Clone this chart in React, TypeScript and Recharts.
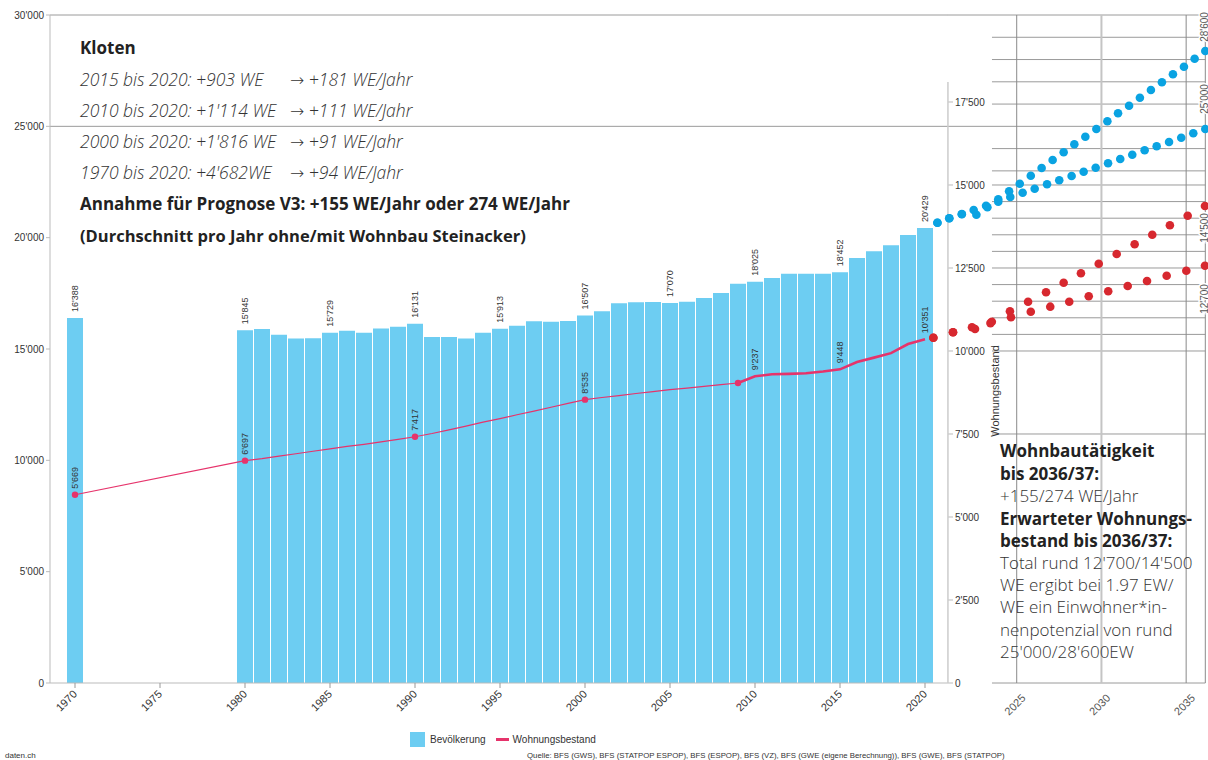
import React from 'react';
import {
  ComposedChart, Bar, Line, XAxis, YAxis, ReferenceLine, LabelList, Legend, Scatter,
} from 'recharts';

const W = 1208;
const H = 760;

// ---------- data: historic (Kloten) ----------
const years = [1970, 1971, 1972, 1973, 1974, 1975, 1976, 1977, 1978, 1979, 1980, 1981, 1982, 1983, 1984, 1985, 1986, 1987, 1988, 1989, 1990, 1991, 1992, 1993, 1994, 1995, 1996, 1997, 1998, 1999, 2000, 2001, 2002, 2003, 2004, 2005, 2006, 2007, 2008, 2009, 2010, 2011, 2012, 2013, 2014, 2015, 2016, 2017, 2018, 2019, 2020];

const bevoelkerung = [16388, null, null, null, null, null, null, null, null, null,
  15845, 15893, 15638, 15473, 15480, 15729, 15817, 15735, 15920, 15995,
  16131, 15535, 15540, 15473, 15730, 15913, 16040, 16250, 16219, 16255,
  16507, 16697, 17054, 17099, 17112, 17070, 17126, 17291, 17515, 17930,
  18025, 18185, 18377, 18380, 18385, 18452, 19092, 19391, 19659, 20119, 20429];

const wohnungenBis2009 = [5669, null, null, null, null, null, null, null, null, null,
  6697, 6760, 6835, 6905, 6980, 7050, 7125, 7190, 7265, 7340,
  7417, 7515, 7625, 7735, 7855, 7964, 8080, 8190, 8305, 8420,
  8535, 8600, 8655, 8720, 8775, 8835, 8880, 8935, 8985, 9036,
  null, null, null, null, null, null, null, null, null, null, null];

const wohnungenAb2009 = [null, null, null, null, null, null, null, null, null, null,
  null, null, null, null, null, null, null, null, null, null,
  null, null, null, null, null, null, null, null, null, null,
  null, null, null, null, null, null, null, null, null, 9036,
  9237, 9300, 9310, 9330, 9380, 9448, 9670, 9800, 9935, 10210, 10351];

const popLabelYears = [1970, 1980, 1985, 1990, 1995, 2000, 2005, 2010, 2015, 2020];
const weLabelYears = [1970, 1980, 1990, 2000, 2010, 2015, 2020];
const weDotYears = [1970, 1980, 1990, 2000, 2009];

const popTicks = [0, 5000, 10000, 15000, 20000, 25000, 30000];
const weTicks = [0, 2500, 5000, 7500, 10000, 12500, 15000, 17500];

// ---------- data: projection panel ----------
const prognoseBevHochJahr = [2020.32, 2021.02, 2021.76, 2022.46, 2023.19, 2023.91, 2024.55, 2025.18, 2025.83, 2026.47, 2027.12, 2027.77, 2028.40, 2029.05, 2029.70, 2030.35, 2030.98, 2031.63, 2032.27, 2032.92, 2033.57, 2034.22, 2034.87, 2035.50, 2036.13];
const prognoseBevHoch = [20672, 20870, 21063, 21242, 21436, 21723, 22082, 22424, 22783, 23129, 23488, 23834, 24193, 24534, 24880, 25226, 25585, 25927, 26286, 26632, 26977, 27337, 27678, 28037, 28383];

const prognoseBevTiefJahr = [2020.32, 2021.02, 2021.76, 2022.62, 2023.27, 2023.91, 2024.62, 2025.35, 2026.06, 2026.79, 2027.51, 2028.24, 2028.95, 2029.66, 2030.39, 2031.11, 2031.82, 2032.55, 2033.26, 2033.99, 2034.71, 2035.42, 2036.13];
const prognoseBevTief = [20672, 20870, 21049, 21031, 21364, 21615, 21826, 22019, 22199, 22397, 22576, 22769, 22962, 23142, 23340, 23533, 23726, 23924, 24103, 24296, 24489, 24687, 24880];

const prognoseWeHochJahr = [2020.08, 2021.24, 2022.36, 2023.53, 2024.60, 2025.67, 2026.73, 2027.77, 2028.79, 2029.84, 2030.90, 2031.96, 2033.00, 2034.04, 2035.09, 2036.11];
const prognoseWeHoch = [10400, 10563, 10714, 10882, 11196, 11485, 11768, 12057, 12340, 12629, 12921, 13214, 13503, 13786, 14075, 14367];

const prognoseWeTiefJahr = [2020.08, 2021.24, 2022.54, 2023.45, 2024.66, 2025.83, 2026.98, 2028.10, 2029.25, 2030.40, 2031.55, 2032.69, 2033.85, 2035.01, 2036.11];
const prognoseWeTief = [10400, 10563, 10664, 10840, 11017, 11184, 11335, 11485, 11648, 11798, 11958, 12108, 12268, 12418, 12569];

const panelTicks = [2025, 2030, 2035];
const panelPopGrid = [23000, 24000, 26000, 27000, 28000, 29000];
const panelPopFullGrid = [25000, 30000];
const panelWeGrid = [7500, 10000, 10500, 11000, 11500, 12000, 12500, 13000, 13500, 14000, 14500, 15000];
const panelDomain: [number, number] = [2020, 2036.13];
const panelGridStart = 2023.54;
const weAxisYear = 2020.94;
const weAxisTop = 18100;

// ---------- styles ----------
const AXIS_FONT = '"Liberation Sans", Arial, sans-serif';
const TEXT_FONT = '"Open Sans", "Noto Sans", sans-serif';
const BAR_COLOR = '#6dcdf2';
const LINE_COLOR = '#e6336b';
const BLUE_DOT = '#0aa3e2';
const RED_DOT = '#d7282f';
const GRID = '#9a9a9a';

const fmt = (v: any) => String(Math.round(Number(v))).replace(/\B(?=(\d{3})+(?!\d))/g, "'");

const rows = years.map((year, i) => ({
  year,
  pop: bevoelkerung[i],
  weA: wohnungenBis2009[i],
  weB: wohnungenAb2009[i],
}));

const popLabelValues = popLabelYears.map((y) => bevoelkerung[years.indexOf(y)]);

const zip = (xs: number[], ys: number[]) => xs.map((x, i) => ({ x, y: ys[i] }));

const XTick = (props: any) => {
  const { payload, color, ox = 0, oy = 0 } = props;
  const x = Number(props.x) + ox;
  const y = Number(props.y) + oy;
  return (
    <text x={x} y={y} dy="0.35em" transform={`rotate(-45 ${x} ${y})`} textAnchor="end"
      fontSize={11} fill={color || '#333'} fontFamily={AXIS_FONT}>
      {payload.value}
    </text>
  );
};

const BarLabel = (props: any) => {
  const { x, y, width, value } = props;
  if (value == null || !popLabelValues.includes(Number(value))) return null;
  const cx = Number(x) + Number(width) / 2;
  const ty = Number(y) - 6;
  return (
    <text x={cx} y={ty} dy="0.35em" transform={`rotate(-90 ${cx} ${ty})`} textAnchor="start"
      fontSize={9} fill="#333" fontFamily={AXIS_FONT}>
      {fmt(value)}
    </text>
  );
};

const LineLabel = (props: any) => {
  const { x, y, value, index } = props;
  if (value == null || x == null || y == null || !weLabelYears.includes(years[index])) return null;
  const cx = Number(x);
  const ty = Number(y) - 6;
  return (
    <text x={cx} y={ty} dy="0.35em" transform={`rotate(-90 ${cx} ${ty})`} textAnchor="start"
      fontSize={9} fill="#333" fontFamily={AXIS_FONT}>
      {fmt(value)}
    </text>
  );
};

const renderDot = (props: any) => {
  const { cx, cy, index } = props;
  const key = `dot-${index}`;
  if (cx == null || cy == null || !weDotYears.includes(years[index])) return <g key={key} />;
  return <circle key={key} cx={cx} cy={cy} r={3.2} fill={LINE_COLOR} />;
};

const dotShape = (color: string) => (props: any) => (
  <circle cx={props.cx} cy={props.cy} r={4.3} fill={color} />
);

const LegendContent = (props: any) => {
  const items = (props.payload || []).filter((p: any) => p.type !== 'none');
  return (
    <div style={{ display: 'flex', alignItems: 'center', fontFamily: AXIS_FONT, fontSize: 10, color: '#333' }}>
      {items.map((it: any) => (
        <span key={it.value} style={{ display: 'flex', alignItems: 'center', marginRight: 10 }}>
          {it.type === 'square'
            ? <span style={{ display: 'inline-block', width: 15, height: 15, background: it.color, marginRight: 5 }} />
            : <span style={{ display: 'inline-block', width: 13, height: 3, background: it.color, marginRight: 4 }} />}
          {it.value}
        </span>
      ))}
    </div>
  );
};

const MainChart = () => (
  <ComposedChart width={W} height={H} data={rows} margin={{ top: 15, right: 210, bottom: 37, left: 0 }} barCategoryGap={0.5}>
    <XAxis dataKey="year" interval={4} padding={{ left: 16.5, right: 14.5 }} height={40}
      tick={<XTick oy={2} />} tickSize={5} tickLine={{ stroke: '#999' }} axisLine={{ stroke: '#bbb' }} />
    <YAxis yAxisId="pop" domain={[0, 30000]} ticks={popTicks} width={50} tickFormatter={fmt}
      tick={{ fontSize: 10, fill: '#333', fontFamily: AXIS_FONT }} tickSize={4}
      axisLine={{ stroke: '#bbb' }} tickLine={{ stroke: '#bbb' }} />
    <YAxis yAxisId="we" orientation="right" domain={[0, 20120]} ticks={weTicks} width={50} tickFormatter={fmt}
      tick={{ fontSize: 10, fill: '#333', fontFamily: AXIS_FONT }} tickSize={5}
      axisLine={false} tickLine={{ stroke: '#bbb' }} />
    <ReferenceLine yAxisId="pop" y={25000} stroke={GRID} />
    <ReferenceLine yAxisId="pop" y={30000} stroke={GRID} />
    <Bar yAxisId="pop" dataKey="pop" name="Bevölkerung" fill={BAR_COLOR} legendType="square" isAnimationActive={false}>
      <LabelList dataKey="pop" content={BarLabel} />
    </Bar>
    <Line yAxisId="we" dataKey="weA" name="Wohnungsbestand" stroke={LINE_COLOR} strokeWidth={1.2} connectNulls
      dot={renderDot} activeDot={false} legendType="line" isAnimationActive={false}>
      <LabelList dataKey="weA" content={LineLabel} />
    </Line>
    <Line yAxisId="we" dataKey="weB" name="Wohnungsbestand ab 2009" stroke={LINE_COLOR} strokeWidth={2.6}
      dot={false} activeDot={false} legendType="none" isAnimationActive={false}>
      <LabelList dataKey="weB" content={LineLabel} />
    </Line>
    <Legend layout="horizontal" verticalAlign="middle" align="center" content={LegendContent}
      wrapperStyle={{ left: 410, top: 732, width: 240, height: 18 }} />
  </ComposedChart>
);

const PanelChart = () => (
  <ComposedChart width={W} height={H} margin={{ top: 15, right: 2.7, bottom: 37, left: 932 }}>
    <XAxis type="number" dataKey="x" domain={panelDomain} ticks={panelTicks} height={40}
      tick={<XTick color="#555" ox={7} oy={6} />} tickSize={5} tickLine={false} axisLine={false} />
    <YAxis yAxisId="pop" dataKey="y" domain={[0, 30000]} hide />
    <YAxis yAxisId="we" dataKey="y" domain={[0, 20120]} hide />
    {panelPopGrid.map((v) => (
      <ReferenceLine key={`pg${v}`} yAxisId="pop" stroke={GRID}
        segment={[{ x: panelGridStart, y: v }, { x: panelDomain[1], y: v }]} />
    ))}
    {panelPopFullGrid.map((v) => (
      <ReferenceLine key={`pf${v}`} yAxisId="pop" stroke={GRID}
        segment={[{ x: weAxisYear, y: v }, { x: panelDomain[1], y: v }]} />
    ))}
    {panelWeGrid.map((v) => (
      <ReferenceLine key={`wg${v}`} yAxisId="we" stroke={GRID}
        segment={[{ x: panelGridStart, y: v }, { x: panelDomain[1], y: v }]} />
    ))}
    <ReferenceLine yAxisId="we" stroke={GRID} segment={[{ x: panelGridStart, y: 0 }, { x: panelDomain[1], y: 0 }]} />
    <ReferenceLine yAxisId="we" stroke="#ccc" strokeWidth={1.5} segment={[{ x: weAxisYear, y: 0 }, { x: weAxisYear, y: weAxisTop }]} />
    <ReferenceLine yAxisId="we" x={2025} stroke="#8a8a8a" />
    <ReferenceLine yAxisId="we" x={2030} stroke="#c4c4c4" strokeWidth={2} />
    <ReferenceLine yAxisId="we" x={2035} stroke="#8a8a8a" />
    <ReferenceLine yAxisId="we" x={panelDomain[1]} stroke="#8a8a8a" />
    <Scatter name="Bevölkerung hoch" yAxisId="pop" data={zip(prognoseBevHochJahr, prognoseBevHoch)} shape={dotShape(BLUE_DOT)} isAnimationActive={false} />
    <Scatter name="Bevölkerung tief" yAxisId="pop" data={zip(prognoseBevTiefJahr, prognoseBevTief)} shape={dotShape(BLUE_DOT)} isAnimationActive={false} />
    <Scatter name="Wohnungen hoch" yAxisId="we" data={zip(prognoseWeHochJahr, prognoseWeHoch)} shape={dotShape(RED_DOT)} isAnimationActive={false} />
    <Scatter name="Wohnungen tief" yAxisId="we" data={zip(prognoseWeTiefJahr, prognoseWeTief)} shape={dotShape(RED_DOT)} isAnimationActive={false} />
  </ComposedChart>
);

const T = (p: any) => <text fontFamily={TEXT_FONT} fontSize={17} fill="#222" {...p} />;
const ARROW = { fontFamily: '"DejaVu Sans", sans-serif', fontStyle: 'normal' as const, fontWeight: 300 };

const periodLines: [string, string, number][] = [
  ['2015 bis 2020: +903 WE', '+181 WE/Jahr', 86],
  ['2010 bis 2020: +1\'114 WE', '+111 WE/Jahr', 117],
  ['2000 bis 2020: +1\'816 WE', '+91 WE/Jahr', 148],
  ['1970 bis 2020: +4\'682WE', '+94 WE/Jahr', 179],
];

const Overlay = () => (
  <svg width={W} height={H} style={{ position: 'absolute', left: 0, top: 0, pointerEvents: 'none' }}>
    <T x={80} y={54} fontWeight={700}>Kloten</T>
    {periodLines.map(([a, b, y]) => (
      <g key={a}>
        <T x={80} y={y} fontSize={17.5} fontStyle="italic" fontWeight={300} fill="#333">{a}</T>
        <T x={290} y={y} fontSize={17.5} fontStyle="italic" fontWeight={300} fill="#333">
          <tspan {...ARROW} fontSize={17}>→</tspan> {b}
        </T>
      </g>
    ))}
    <T x={80} y={210} fontWeight={700}>Annahme für Prognose V3: +155 WE/Jahr oder 274 WE/Jahr</T>
    <T x={80} y={242} fontWeight={700} fontSize={16.5}>(Durchschnitt pro Jahr ohne/mit Wohnbau Steinacker)</T>

    <T x={1000} y={457} fontWeight={700}>Wohnbautätigkeit</T>
    <T x={1000} y={480} fontWeight={700}>bis 2036/37:</T>
    <T x={1000} y={502} fontWeight={300} fill="#333">+155/274 WE/Jahr</T>
    <T x={1000} y={525} fontWeight={700}>Erwarteter Wohnungs-</T>
    <T x={1000} y={547} fontWeight={700}>bestand bis 2036/37:</T>
    <T x={1000} y={569} fontWeight={300} fill="#333">Total rund 12'700/14'500</T>
    <T x={1000} y={591} fontWeight={300} fill="#333">WE ergibt bei 1.97 EW/</T>
    <T x={1000} y={613} fontWeight={300} fill="#333">WE ein Einwohner*in-</T>
    <T x={1000} y={636} fontWeight={300} fill="#333">nenpotenzial von rund</T>
    <T x={1000} y={658} fontWeight={300} fill="#333">25'000/28'600EW</T>

    <text x={995} y={391} transform="rotate(-90 995 391)" textAnchor="middle" dy="0.35em"
      fontFamily={AXIS_FONT} fontSize={11} fill="#333">Wohnungsbestand</text>

    {[['28\'600', 27], ['25\'000', 99], ['14\'500', 228], ['12\'700', 299]].map(([t, y]) => (
      <text key={String(t)} x={1204} y={Number(y)} transform={`rotate(-90 1204 ${y})`} textAnchor="middle" dy="0.35em"
        fontFamily={AXIS_FONT} fontSize={10} fill="#555" stroke="#fff" strokeWidth={3} paintOrder="stroke">{t}</text>
    ))}

    <text x={5} y={758} fontFamily={AXIS_FONT} fontSize={8} fill="#333">daten.ch</text>
    <text x={527} y={758} fontFamily={AXIS_FONT} fontSize={7.8} fill="#333">
      Quelle: BFS (GWS), BFS (STATPOP ESPOP), BFS (ESPOP), BFS (VZ), BFS (GWE (eigene Berechnung)), BFS (GWE), BFS (STATPOP)
    </text>
  </svg>
);

export default function App() {
  return (
    <div style={{ position: 'absolute', left: 0, top: 0, width: W, height: H, background: '#fff', overflow: 'hidden' }}>
      <div style={{ position: 'absolute', left: 0, top: 0 }}><MainChart /></div>
      <div style={{ position: 'absolute', left: 0, top: 0 }}><PanelChart /></div>
      <Overlay />
    </div>
  );
}
